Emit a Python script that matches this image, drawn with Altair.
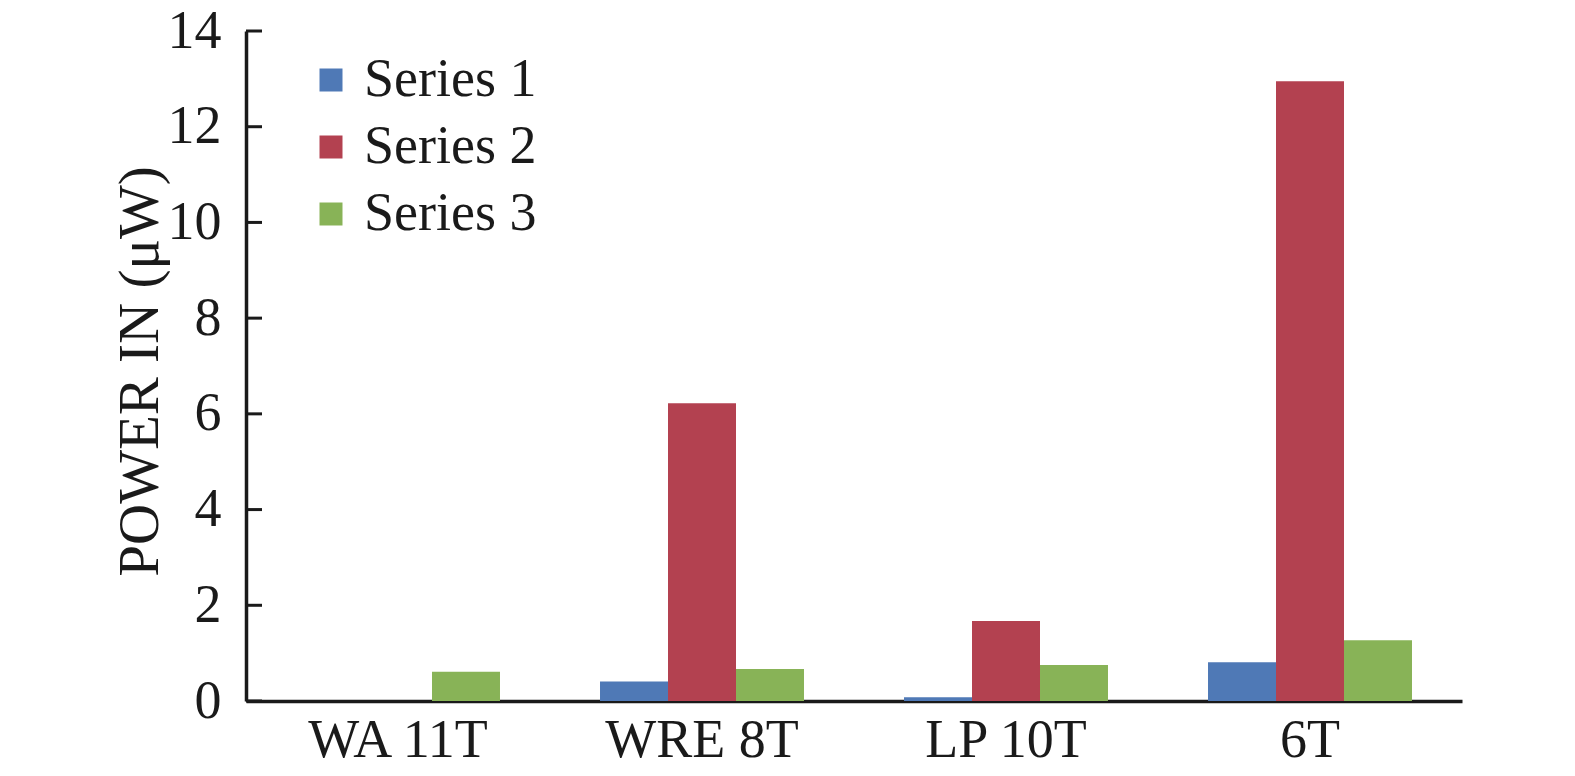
import altair as alt
import pandas as pd

categories = ["WA 11T", "WRE 8T", "LP 10T", "6T"]
series_names = ["Series 1", "Series 2", "Series 3"]
series1 = [0.0, 0.41, 0.08, 0.81]
series2 = [0.0, 6.22, 1.67, 12.95]
series3 = [0.61, 0.67, 0.75, 1.27]
y_ticks = [0, 2, 4, 6, 8, 10, 12, 14]
colors = ["#4F79B6", "#B34150", "#88B357"]

rows = []
for name, vals in zip(series_names, [series1, series2, series3]):
    for c, v in zip(categories, vals):
        rows.append({"category": c, "series": name, "value": v})
df = pd.DataFrame(rows)
ticks_df = pd.DataFrame({"t": y_ticks})

FONT = "'Liberation Serif', 'Times New Roman', 'DejaVu Serif', serif"

bars = alt.Chart(df).mark_bar().encode(
    x=alt.X("category:N", sort=categories,
            scale=alt.Scale(paddingInner=0.329, paddingOuter=0.1645),
            axis=alt.Axis(title=None, ticks=False, labelAngle=0, labelPadding=12, labelLimit=0,
                          labelFontSize=54, labelFont=FONT, labelColor="#1a1a1a",
                          domainColor="#1a1a1a", domainWidth=3.5)),
    xOffset=alt.XOffset("series:N", sort=series_names, scale=alt.Scale(paddingInner=0, paddingOuter=0)),
    y=alt.Y("value:Q", scale=alt.Scale(domain=[0, 14], nice=False),
            axis=alt.Axis(title="POWER IN (μW)", values=y_ticks, ticks=False, grid=False,
                          labelPadding=25, labelFontSize=54, labelFont=FONT, labelColor="#1a1a1a",
                          domainColor="#1a1a1a", domainWidth=3.5,
                          titleFont=FONT, titleFontSize=57, titleFontWeight="normal",
                          titleColor="#1a1a1a", titleAngle=-90, titleX=-106, titleY=340,
                          titleAlign="center", titleBaseline="middle", titleLimit=0)),
    color=alt.Color("series:N", sort=series_names,
                    scale=alt.Scale(domain=series_names, range=colors),
                    legend=alt.Legend(title=None, orient="none", legendX=58, legendY=22,
                                      symbolType="square", symbolSize=529, symbolStrokeWidth=0,
                                      symbolOpacity=1, labelLimit=0,
                                      labelFont=FONT, labelFontSize=54, labelColor="#1a1a1a",
                                      labelOffset=6, rowPadding=13)),
)

tick_marks = alt.Chart(ticks_df).mark_rule(color="#1a1a1a", strokeWidth=3).encode(
    y=alt.Y("t:Q"),
    x=alt.value(0),
    x2=alt.value(16),
)

chart = alt.layer(bars, tick_marks).properties(
    width=1216, height=670,
    autosize=alt.AutoSizeParams(type="none"),
    padding={"left": 238, "top": 23, "right": 90, "bottom": 66},
).configure(background="white").configure_view(stroke=None, strokeWidth=0)

chart.save("out.html", embed_options={"renderer": "svg", "actions": False})
